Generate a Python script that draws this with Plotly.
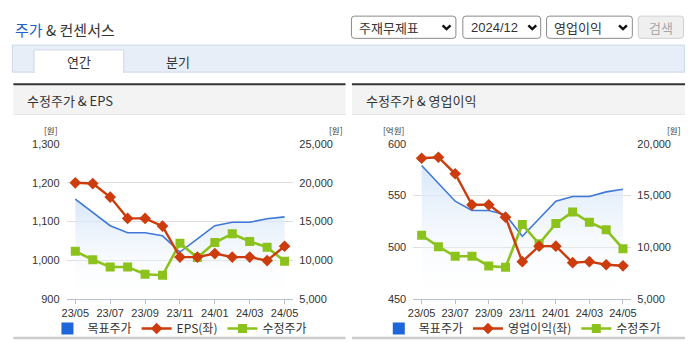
import plotly.graph_objects as go

W, H = 695, 349

# ---- data -------------------------------------------------------------
months = ["23/05", "23/06", "23/07", "23/08", "23/09", "23/10", "23/11",
          "23/12", "24/01", "24/02", "24/03", "24/04", "24/05"]
tick_months = ["23/05", "23/07", "23/09", "23/11", "24/01", "24/03", "24/05"]

target_price = [17900, 16200, 14450, 13550, 13550, 13150, 11050,
                12750, 14450, 14900, 14900, 15350, 15600]          # 목표주가 (원)
adj_price = [11150, 10050, 9120, 9120, 8180, 8050, 12200,
             10330, 12280, 13410, 12410, 11680, 9850]               # 수정주가 (원)
eps = [1200, 1198, 1163, 1108, 1108, 1088, 1008,
       1008, 1017, 1008, 1008, 999, 1036]                           # EPS (원)
op_income = [586, 587, 571, 541, 541, 529, 486,
             501, 501, 485, 486, 483, 482]                          # 영업이익 (억원)

eps_ticks = [900, 1000, 1100, 1200, 1300]
price_ticks_eps = [5000, 10000, 15000, 20000, 25000]
op_ticks = [450, 500, 550, 600]
price_ticks_op = [5000, 10000, 15000, 20000]

# ---- style ------------------------------------------------------------
KR = "Noto Sans CJK KR, Noto Sans, sans-serif"
NUM = "Liberation Sans Narrow, Arial Narrow, Liberation Sans, sans-serif"
RED = "#cc3c0c"
GREEN = "#8bc21c"
BLUE_LINE = "#3f79d8"
BLUE = "#1f66da"
TXT = "#333333"


def fx(x):
    return x / W


def fy(y):
    return 1 - y / H


fig = go.Figure()


def add_chart(xa, ya_price, ya_left, legend, left_vals, left_name):
    # target price line with a soft vertical gradient underneath
    fig.add_trace(go.Scatter(
        x=months, y=target_price, xaxis=xa, yaxis=ya_price, mode="lines",
        line=dict(color=BLUE_LINE, width=1.6), fill="tozeroy",
        fillgradient=dict(type="vertical", start=5000, stop=max(target_price),
                          colorscale=[[0, "rgba(255,255,255,0)"],
                                      [1, "rgba(212,228,248,0.9)"]]),
        showlegend=False, hoverinfo="skip"))
    # legend entry for the target price (square swatch)
    fig.add_trace(go.Scatter(
        x=[None], y=[None], xaxis=xa, yaxis=ya_price, mode="markers",
        marker=dict(symbol="square", size=12, color=BLUE),
        name="목표주가", legend=legend, legendrank=1))
    fig.add_trace(go.Scatter(
        x=months, y=adj_price, xaxis=xa, yaxis=ya_price, mode="lines+markers",
        line=dict(color=GREEN, width=2.6),
        marker=dict(symbol="square", size=9, color=GREEN),
        name="수정주가", legend=legend, legendrank=3))
    fig.add_trace(go.Scatter(
        x=months, y=left_vals, xaxis=xa, yaxis=ya_left, mode="lines+markers",
        line=dict(color=RED, width=2.4),
        marker=dict(symbol="diamond", size=9, color=RED),
        name=left_name, legend=legend, legendrank=2))


# price axes are the base layers; EPS / 영업이익 axes overlay them
add_chart("x", "y", "y2", "legend", eps, "EPS(좌)")
add_chart("x2", "y3", "y4", "legend2", op_income, "영업이익(좌)")

xcommon = dict(type="category", categoryorder="array", categoryarray=months,
               range=[-0.5, 12.5], tickvals=tick_months, ticks="outside",
               ticklen=4, tickcolor="#b8c0cc", showline=True, linecolor="#b8c0cc",
               linewidth=1, showgrid=False, zeroline=False,
               tickfont=dict(family=NUM, size=11, color=TXT), fixedrange=True)
price_axis = dict(side="right", showgrid=True, gridcolor="#dedede", gridwidth=1,
                  zeroline=False, showline=False, ticks="", tickformat=",",
                  ticklabelstandoff=5,
                  tickfont=dict(family=NUM, size=11, color=TXT), fixedrange=True)
left_axis = dict(side="left", showgrid=False, zeroline=False, showline=False,
                 ticks="", tickformat=",", ticklabelstandoff=6,
                 tickfont=dict(family=NUM, size=11, color=TXT), fixedrange=True)

L_X = [fx(62.5), fx(292.5)]
R_X = [fx(414.2), fx(635.5)]
L_Y = [fy(303.3), fy(143)]
R_Y = [fy(303.3), fy(142.7)]

legend_common = dict(orientation="h", xanchor="center", y=fy(334), yanchor="middle",
                     bgcolor="rgba(0,0,0,0)", font=dict(family=KR, size=12, color=TXT),
                     itemwidth=30, itemsizing="trace", traceorder="normal")

fig.update_layout(
    width=W, height=H, autosize=False,
    margin=dict(l=0, r=0, t=0, b=0),
    paper_bgcolor="white", plot_bgcolor="rgba(0,0,0,0)",
    font=dict(family=KR, color=TXT),
    xaxis=dict(domain=L_X, anchor="y", **xcommon),
    yaxis=dict(domain=L_Y, anchor="x", range=[5000, 25000],
               tickvals=price_ticks_eps, **price_axis),
    yaxis2=dict(overlaying="y", anchor="x", range=[900, 1300],
                tickvals=eps_ticks, **left_axis),
    xaxis2=dict(domain=R_X, anchor="y3", **xcommon),
    yaxis3=dict(domain=R_Y, anchor="x2", range=[5000, 20000],
                tickvals=price_ticks_op, **price_axis),
    yaxis4=dict(overlaying="y3", anchor="x2", range=[450, 600],
                tickvals=op_ticks, **left_axis),
    legend=dict(x=sum(L_X) / 2, **legend_common),
    legend2=dict(x=sum(R_X) / 2, **legend_common),
    showlegend=True,
)

# ---- page decoration ----------------------------------------------------
shapes = []


def rect(x0, y0, x1, y1, fill, line=None, lw=1):
    shapes.append(dict(type="rect", xref="paper", yref="paper", layer="below",
                       x0=fx(x0), x1=fx(x1), y0=fy(y1), y1=fy(y0),
                       fillcolor=fill, line=dict(color=line or fill, width=lw if line else 0)))


def rounded(x0, y0, x1, y1, r, fill, line):
    p = (f"M {fx(x0 + r)} {fy(y0)} L {fx(x1 - r)} {fy(y0)} "
         f"Q {fx(x1)} {fy(y0)} {fx(x1)} {fy(y0 + r)} L {fx(x1)} {fy(y1 - r)} "
         f"Q {fx(x1)} {fy(y1)} {fx(x1 - r)} {fy(y1)} L {fx(x0 + r)} {fy(y1)} "
         f"Q {fx(x0)} {fy(y1)} {fx(x0)} {fy(y1 - r)} L {fx(x0)} {fy(y0 + r)} "
         f"Q {fx(x0)} {fy(y0)} {fx(x0 + r)} {fy(y0)} Z")
    shapes.append(dict(type="path", xref="paper", yref="paper", layer="above",
                       path=p, fillcolor=fill, line=dict(color=line, width=1)))


def chevron(cx, cy):
    p = f"M {fx(cx - 4)} {fy(cy - 2)} L {fx(cx)} {fy(cy + 2)} L {fx(cx + 4)} {fy(cy - 2)}"
    shapes.append(dict(type="path", xref="paper", yref="paper", layer="above",
                       path=p, line=dict(color="#111111", width=2.4)))


# tab strip
rect(7.5, 40.5, 689.5, 68.5, "#e8eef8", "#cfd8e6")
rect(29.5, 45.5, 120.5, 69, "#ffffff", "#cfd8e6")
rect(30.2, 67.5, 119.8, 70, "#ffffff")

# selectors
rounded(351.5, 10.5, 457.5, 33.5, 3, "#ffffff", "#8a8a8a")
rounded(464.5, 10.5, 543.5, 33.5, 3, "#ffffff", "#8a8a8a")
rounded(549.5, 10.5, 636.5, 33.5, 3, "#ffffff", "#8a8a8a")
rounded(642.5, 10.5, 688.5, 33.5, 3, "#efefef", "#cfcfcf")
chevron(448, 22)
chevron(535, 22)
chevron(627, 22)

# panel headers and bottom rules
for x0, x1 in [(8.5, 345.5), (352, 690)]:
    rect(x0, 82, x1, 112, "#f3f3f3")
    rect(x0, 80, x1, 82, "#333333")
    rect(x0, 112, x1, 113, "#dddddd")
    rect(x0, 342.5, x1, 345, "#cccccc")

ann = []


def text(x, y, s, size, color=TXT, anchor="left", family=KR):
    ann.append(dict(xref="paper", yref="paper", x=fx(x), y=fy(y), text=s,
                    showarrow=False, xanchor=anchor, yanchor="middle",
                    font=dict(family=family, size=size, color=color)))


text(8, 24, '<span style="color:#2160cc">주가</span> & 컨센서스', 15)
text(357, 22, "주재무제표", 13)
text(471, 22, "2024/12", 13, family=NUM)
text(555, 22, "영업이익", 13)
text(665.5, 22, "검색", 13, color="#a8a8a8", anchor="center")
text(75, 57, "연간", 13, anchor="center")
text(176, 57, "분기", 13, anchor="center")

text(20, 98, "수정주가 & EPS", 13)
text(364, 98, "수정주가 & 영업이익", 13)

# unit captions above the value axes
text(46.5, 128.5, "[원]", 8.5, anchor="center")
text(336, 128.5, "[원]", 8.5, anchor="center")
text(394, 128.5, "[억원]", 8.5, anchor="center")
text(679, 128.5, "[원]", 8.5, anchor="center")

fig.update_layout(shapes=shapes, annotations=ann)

fig.write_html("out.html")
